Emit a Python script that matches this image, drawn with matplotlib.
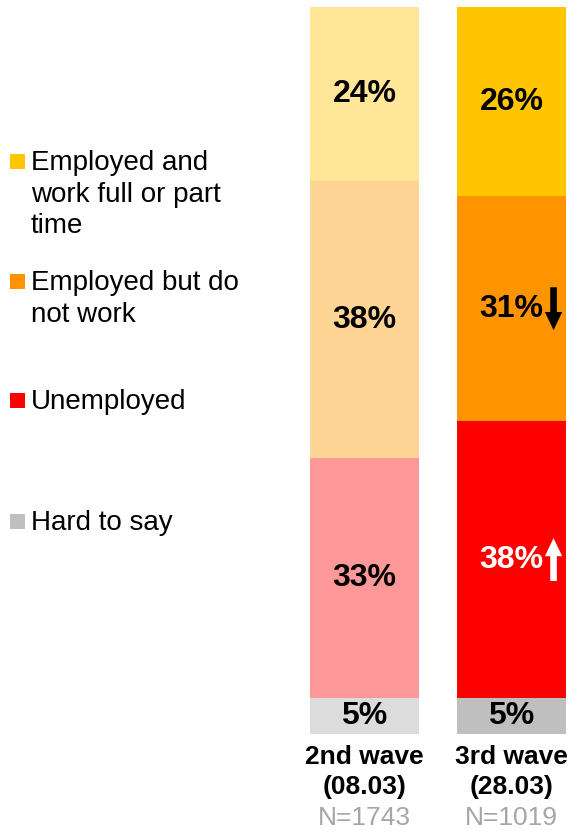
import matplotlib.pyplot as plt
from matplotlib.patches import FancyArrow

plt.rcParams["font.family"] = ["Liberation Sans", "DejaVu Sans"]

waves = ["2nd wave\n(08.03)", "3rd wave\n(28.03)"]
sample_sizes = ["N=1743", "N=1019"]
categories = ["Employed and\nwork full or part\ntime", "Employed but do\nnot work", "Unemployed", "Hard to say"]

# shares per category, top of the bar first
wave2 = [24, 38, 33, 5]
wave3 = [26, 31, 38, 5]

colors_wave2 = ["#FFE699", "#FFD596", "#FF9999", "#DCDCDC"]
colors_wave3 = ["#FFC600", "#FF9300", "#FF0000", "#BFBFBF"]
label_colors_wave3 = ["black", "black", "white", "black"]

# change markers for the 3rd wave: -1 down, +1 up, 0 none
changes = [0, -1, 1, 0]

W, H = 575, 831
fig = plt.figure(figsize=(W / 100, H / 100), dpi=100)

bar_w = 109 / 147
ax = fig.add_axes([310 / W, (H - 734) / H, 256 / W, 727 / H])
ax.set_xlim(-bar_w / 2, 1 + bar_w / 2)
ax.set_ylim(100, 0)
ax.axis("off")

for i, (vals, cols) in enumerate([(wave2, colors_wave2), (wave3, colors_wave3)]):
    bottom = 0
    for j, (v, c) in enumerate(zip(vals, cols)):
        ax.bar(i, v, bottom=bottom, width=bar_w, color=c, edgecolor="none")
        mid = bottom + v / 2
        txt_color = label_colors_wave3[j] if i == 1 else "black"
        ax.text(i, mid, f"{v}%", ha="center", va="center", fontsize=23,
                fontweight="bold", color=txt_color)
        if i == 1 and changes[j] != 0:
            ax_x = i + 0.286
            if changes[j] < 0:
                start, dy = mid - 2.95, 5.9
            else:
                start, dy = mid + 2.95, -5.9
            ax.add_patch(FancyArrow(ax_x, start, 0, dy, width=0.045, head_width=0.118,
                                    head_length=2.5, length_includes_head=True,
                                    color=txt_color, lw=0))
        bottom += v

    ax.text(i, 105.2, waves[i], ha="center", va="center", fontsize=19,
            fontweight="bold", linespacing=1.3, clip_on=False)
    ax.text(i, 111.5, sample_sizes[i], ha="center", va="center", fontsize=19,
            color="#A6A6A6", clip_on=False)

# legend on the left, one text per line so the marker sits on the first line
legend_baselines = [170, 290, 409, 530]
line_step = 31.5
for label, col, base in zip(categories, colors_wave3, legend_baselines):
    fig.patches.append(plt.Rectangle((10 / W, (H - base + 1) / H), 15 / W, 15 / H,
                                     transform=fig.transFigure, color=col, lw=0))
    for k, line in enumerate(label.split("\n")):
        fig.text(31 / W, (H - base - k * line_step) / H, line, ha="left",
                 va="baseline", fontsize=20)

fig.savefig("out.png", dpi=100)
